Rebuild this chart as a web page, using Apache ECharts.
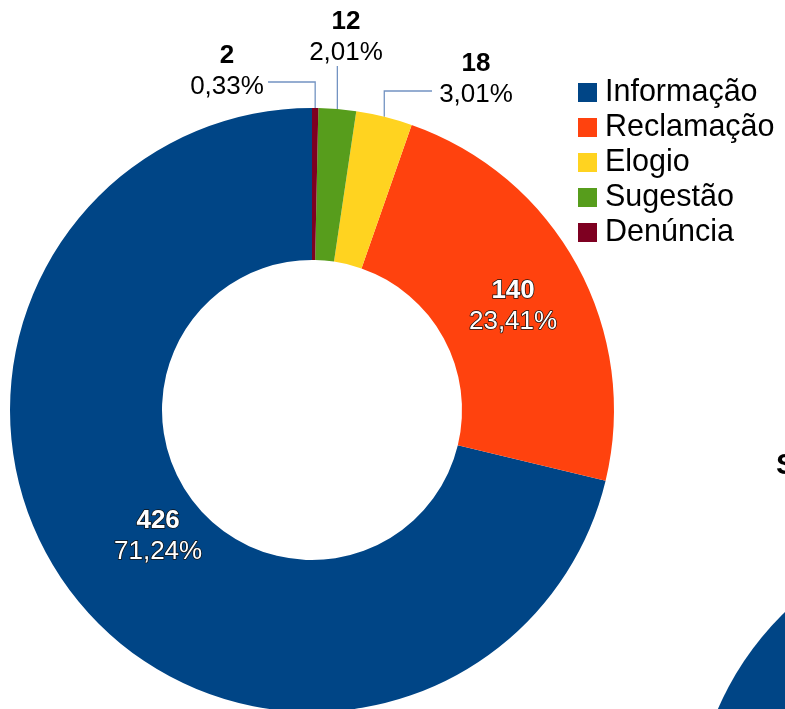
<!DOCTYPE html>
<html lang="pt-BR">
  <head>
    <meta charset="UTF-8" />
    <title>Manifestações</title>
    <style>
      html,
      body {
        margin: 0;
        padding: 0;
        width: 100%;
        height: 100%;
        background: #fff;
        overflow: hidden;
      }
      #main {
        width: 785px;
        height: 709px;
      }
    </style>
    <script src="https://cdn.jsdelivr.net/npm/echarts@6/dist/echarts.min.js"></script>
  </head>
  <body>
    <div id="main"></div>
    <script>
      var categories = ["Informação", "Reclamação", "Elogio", "Sugestão", "Denúncia"];
      var values = [426, 140, 18, 12, 2];
      var colors = ["#004586", "#ff420e", "#ffd320", "#579d1c", "#7e0021"];
      // segundo gráfico, cortado no canto
      var secondValues = [1];

      var myChart = echarts.init(document.getElementById("main"));

      // posição dos rótulos externos (fatias pequenas)
      var outsideLabels = {
        2: { x: 476, y: 79, lineY: 91, lineX: 432 },
        3: { x: 346, y: 37, lineY: 66, lineX: null },
        4: { x: 227, y: 71, lineY: 82, lineX: 268 },
      };

      var data = categories.map(function (name, i) {
        var inside = i < 2;
        return {
          name: name,
          value: values[i],
          itemStyle: { color: colors[i] },
          label: inside
            ? {
                position: "inside",
                rich: {
                  v: {
                    fontSize: 26,
                    fontWeight: "bold",
                    color: "#fff",
                    textBorderColor: "#111",
                    textBorderWidth: 1.5,
                    lineHeight: 31,
                    fontFamily: "Liberation Sans",
                  },
                  p: {
                    fontSize: 26,
                    color: "#fff",
                    textBorderColor: "#111",
                    textBorderWidth: 1.5,
                    lineHeight: 31,
                    fontFamily: "Liberation Sans",
                  },
                },
              }
            : { position: "outside" },
          labelLine: { show: !inside },
        };
      });

      function fmtPct(p) {
        return p.toFixed(2).replace(".", ",") + "%";
      }

      var option = {
        animation: false,
        title: {
          text: "S",
          left: 776,
          top: 451,
          padding: 0,
          textStyle: {
            fontSize: 30,
            fontWeight: "bold",
            color: "#000",
            fontFamily: "Liberation Sans",
          },
        },
        legend: {
          orient: "vertical",
          left: 578,
          top: 77,
          padding: 0,
          itemWidth: 19,
          itemHeight: 19,
          itemGap: 4,
          icon: "rect",
          data: categories,
          textStyle: {
            fontSize: 30.5,
            lineHeight: 30,
            color: "#000",
            padding: [0, 0, 0, 3],
            fontFamily: "Liberation Sans",
          },
        },
        series: [
          {
            type: "pie",
            center: [312, 410],
            radius: [150, 302],
            startAngle: 90,
            clockwise: false,
            avoidLabelOverlap: false,
            percentPrecision: 2,
            itemStyle: { borderWidth: 0 },
            label: {
              formatter: function (params) {
                return "{v|" + params.value + "}\n{p|" + fmtPct(params.percent) + "}";
              },
              align: "center",
              rich: {
                v: {
                  fontSize: 26,
                  fontWeight: "bold",
                  color: "#000",
                  lineHeight: 31,
                  fontFamily: "Liberation Sans",
                },
                p: {
                  fontSize: 26,
                  color: "#000",
                  lineHeight: 31,
                  fontFamily: "Liberation Sans",
                },
              },
            },
            labelLine: {
              length: 20,
              length2: 20,
              lineStyle: { color: "#7393c2", width: 1.3 },
            },
            labelLayout: function (params) {
              if (params.dataIndex === 0) {
                return { dx: 26, dy: -15 };
              }
              if (params.dataIndex === 1) {
                return { dy: 6 };
              }
              var o = outsideLabels[params.dataIndex];
              if (!o) return {};
              var p0 = params.labelLinePoints ? params.labelLinePoints[0] : null;
              var res = { x: o.x, y: o.y, align: "center", verticalAlign: "middle" };
              if (p0) {
                var pts = [p0, [p0[0], o.lineY]];
                if (o.lineX != null) pts.push([o.lineX, o.lineY]);
                res.labelLinePoints = pts;
              }
              return res;
            },
            data: data,
          },
          {
            type: "pie",
            center: [995, 829],
            radius: 302,
            silent: true,
            label: { show: false },
            labelLine: { show: false },
            itemStyle: { color: "#004586" },
            data: secondValues.map(function (v) {
              return { name: "", value: v };
            }),
          },
        ],
      };

      myChart.setOption(option);
    </script>
  </body>
</html>
